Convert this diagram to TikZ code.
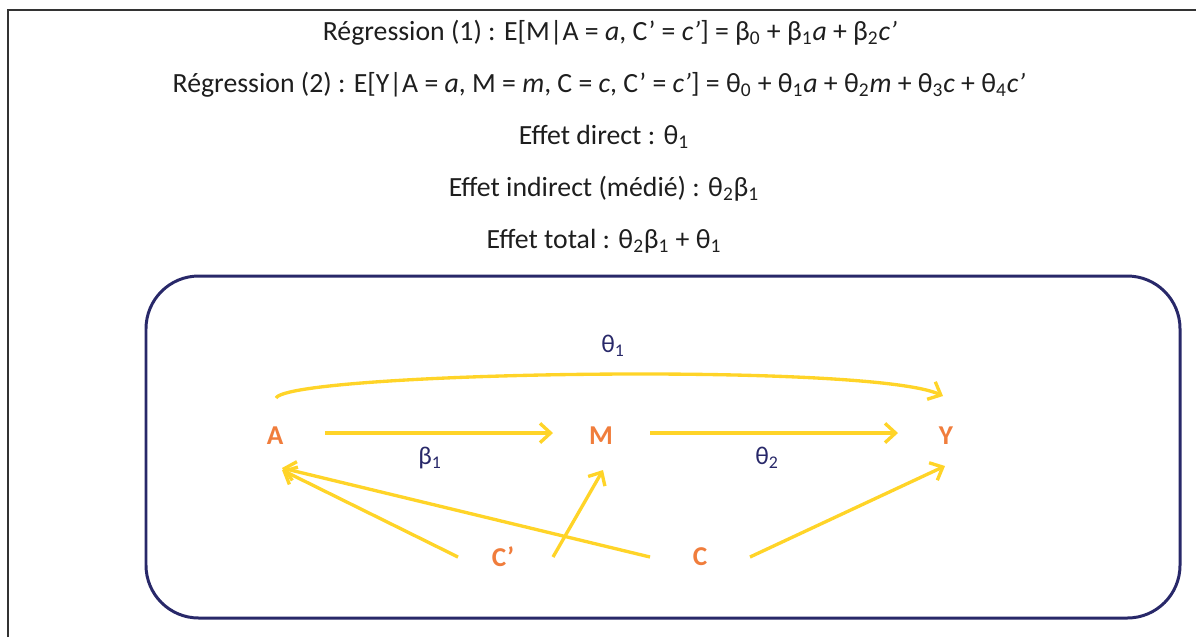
\documentclass[tikz,border=0pt]{standalone}
\usepackage{fontspec}
\setmainfont{Carlito}
\usetikzlibrary{arrows.meta, positioning}
\definecolor{framenavy}{RGB}{40, 40, 105}
\definecolor{varorange}{RGB}{240, 125, 60}
\definecolor{pathgold}{RGB}{255, 212, 40}
\definecolor{textdark}{RGB}{30, 30, 30}

\begin{document}
\begin{tikzpicture}[x=0.02cm, y=-0.02cm,
    eqline/.style={text=textdark, font=\fontsize{15.8}{18}\selectfont, anchor=center},
    varnode/.style={text=varorange, font=\fontsize{15.5}{18}\selectfont\bfseries},
    coeflabel/.style={text=framenavy, font=\fontsize{14.5}{17}\selectfont},
    causal/.style={draw=pathgold, line width=1.9pt, -{Straight Barb[length=6pt, width=11pt, line width=1.9pt]}}]
    \useasboundingbox (0,0) rectangle (1196,637);
    % outer page frame
    \draw[draw=black!80, line width=1.1pt] (8,637) -- (8,10) -- (1196,10);

    % equations
    \node[eqline] (reg1) at (610,33) {Régression (1) : E[M|A = \textit{a}, C’ = \textit{c’}] = β\textsubscript{0} + β\textsubscript{1}\textit{a} + β\textsubscript{2}\textit{c’}};
    \node[eqline] (reg2) at (599,85) {Régression (2) : E[Y|A = \textit{a}, M = \textit{m}, C = \textit{c}, C’ = \textit{c’}] = θ\textsubscript{0} + θ\textsubscript{1}\textit{a} + θ\textsubscript{2}\textit{m} + θ\textsubscript{3}\textit{c} + θ\textsubscript{4}\textit{c’}};
    \node[eqline] (direct) at (604,137) {Effet direct : θ\textsubscript{1}};
    \node[eqline] (indirect) at (604,189) {Effet indirect (médié) : θ\textsubscript{2}β\textsubscript{1}};
    \node[eqline] (total) at (604,241) {Effet total : θ\textsubscript{2}β\textsubscript{1} + θ\textsubscript{1}};

    % diagram box
    \draw[draw=framenavy, line width=1.7pt, rounded corners=30pt] (146,276) rectangle (1180,618);

    % variables
    \node[varnode] (A) at (275,436) {A};
    \node[varnode] (M) at (601,436) {M};
    \node[varnode] (Y) at (946,436) {Y};
    \node[varnode] (Cp) at (503,557) {C’};
    \node[varnode] (C) at (700,557) {C};

    % paths
    \draw[causal] ([shift={(50,-3)}]A.center) -- ([shift={(-48,-3)}]M.center);
    \draw[causal] ([shift={(49,-3)}]M.center) -- ([shift={(-48,-3)}]Y.center);
    \draw[causal] ([shift={(1,-38)}]A.center) .. controls (290,372) and (870,362) .. ([shift={(-3,-40)}]Y.center);
    \draw[causal] ([shift={(-45,0)}]Cp.center) -- ([shift={(7,34)}]A.center);
    \draw[causal] ([shift={(-50,0)}]C.center) -- ([shift={(7,32)}]A.center);
    \draw[causal] ([shift={(50,0)}]Cp.center) -- ([shift={(2,34)}]M.center);
    \draw[causal] ([shift={(50,0)}]C.center) -- ([shift={(-1,30)}]Y.center);

    % coefficients
    \node[coeflabel] (t1) at (613,346) {θ\textsubscript{1}};
    \node[coeflabel] (b1) at (430,458) {β\textsubscript{1}};
    \node[coeflabel] (t2) at (767,458) {θ\textsubscript{2}};
\end{tikzpicture}
\end{document}
